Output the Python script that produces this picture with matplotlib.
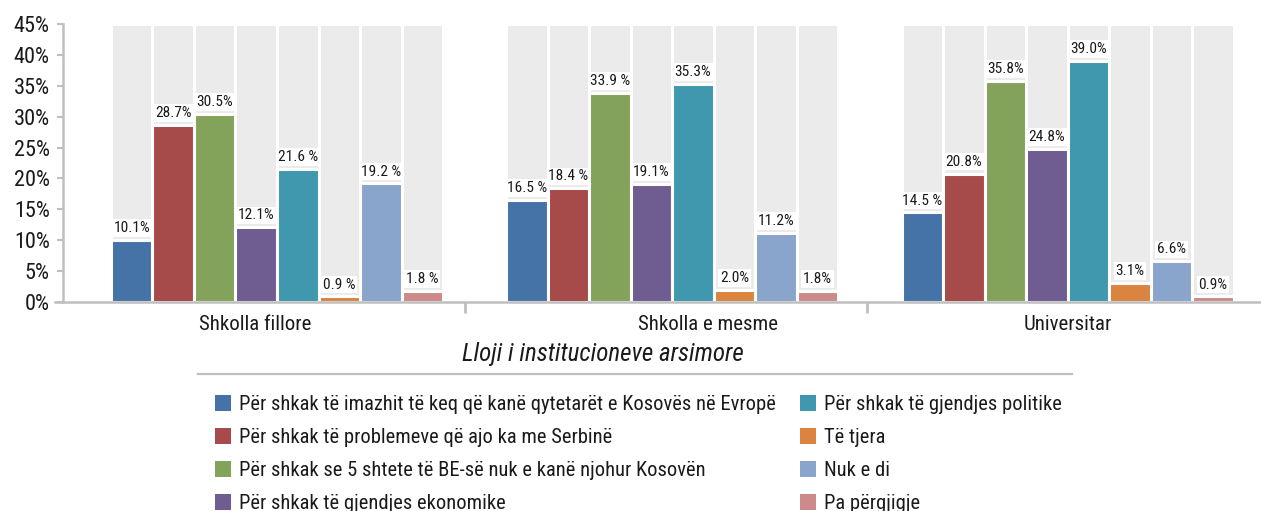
import matplotlib
matplotlib.use("Agg")
import matplotlib.pyplot as plt
from matplotlib import font_manager as fm
from matplotlib.font_manager import FontProperties
from matplotlib.patches import Patch
from matplotlib.lines import Line2D
import numpy as np

# ---- data -------------------------------------------------------------
categories = ["Shkolla fillore", "Shkolla e mesme", "Universitar"]

series_names = [
    "Për shkak të imazhit të keq që kanë qytetarët e Kosovës në Evropë",
    "Për shkak të problemeve që ajo ka me Serbinë",
    "Për shkak se 5 shtete të BE-së nuk e kanë njohur Kosovën",
    "Për shkak të gjendjes ekonomike",
    "Për shkak të gjendjes politike",
    "Të tjera",
    "Nuk e di",
    "Pa përgjigje",
]

imazhi = [10.1, 16.5, 14.5]
serbia = [28.7, 18.4, 20.8]
njohja = [30.5, 33.9, 35.8]
ekonomia = [12.1, 19.1, 24.8]
politika = [21.6, 35.3, 39.0]
te_tjera = [0.9, 2.0, 3.1]
nuk_e_di = [19.2, 11.2, 6.6]
pa_pergjigje = [1.8, 1.8, 0.9]

series_values = [imazhi, serbia, njohja, ekonomia, politika,
                 te_tjera, nuk_e_di, pa_pergjigje]

# separator between number and percent sign, as typeset in the labels
label_gaps = [
    ["", " ", " "],
    ["", " ", ""],
    ["", " ", ""],
    ["", "", ""],
    [" ", "", ""],
    [" ", "", ""],
    [" ", "", ""],
    [" ", "", ""],
]

y_ticks = [0, 5, 10, 15, 20, 25, 30, 35, 40, 45]
y_tick_labels = [f"{t}%" for t in y_ticks]

colors = ["#4673A7", "#A64B4A", "#84A35A", "#6F5C91",
          "#3F98AE", "#DB843F", "#8AA5CB", "#CC8B8A"]
bg_color = "#EBEBEB"
axis_color = "#BFBFBF"
text_color = "#1A1A1A"


# ---- fonts: prefer a narrow sans face -----------------------------------
CONDENSED = {"ultra-condensed", "extra-condensed", "condensed",
             "semi-condensed"}
PREFERRED = ["Liberation Sans Narrow", "Roboto Condensed",
             "Open Sans Condensed", "Noto Sans", "DejaVu Sans",
             "Noto Sans Display", "Lato", "Open Sans", "Roboto"]


def _weight(e):
    w = e.weight
    if isinstance(w, str):
        w = fm.weight_dict.get(w, 400)
    return w


def _narrow(e):
    tag = (e.name + " " + e.fname).lower()
    return str(e.stretch) in CONDENSED or "narrow" in tag or "condensed" in tag


def pick_font(italic=False):
    wanted = "italic" if italic else "normal"
    cands = [e for e in fm.fontManager.ttflist
             if _narrow(e) and (e.style == wanted or
                                (italic and e.style == "oblique"))
             and abs(_weight(e) - 400) <= 100]
    if not cands:
        return None

    def rank(e):
        fam = PREFERRED.index(e.name) if e.name in PREFERRED else 99
        ext = "extra" in str(e.stretch) or "ultra" in str(e.stretch)
        return (fam, ext, abs(_weight(e) - 400))
    cands.sort(key=rank)
    return cands[0].fname


regular_file = pick_font(False)
italic_file = pick_font(True) or regular_file


def fp(size, italic=False):
    f = italic_file if italic else regular_file
    if f:
        return FontProperties(fname=f, size=size)
    return FontProperties(family="DejaVu Sans", size=size,
                          style="italic" if italic else "normal")


# ---- figure -----------------------------------------------------------
W, H = 1261, 511
fig = plt.figure(figsize=(W / 100, H / 100), dpi=100)
renderer = fig.canvas.get_renderer()


def fit_size(text, target_px, italic=False, base=10.0):
    t = fig.text(0, 0, text, fontproperties=fp(base, italic))
    w = t.get_window_extent(renderer).width
    t.remove()
    return base * target_px / w


s_tick = min(fit_size("45%", 40), 16)
s_bar = min(fit_size("10.1%", 36), 11.5)
s_cat = min(fit_size("Shkolla fillore", 121), 15)
s_title = min(fit_size("Lloji i institucioneve arsimore", 284, True), 18)
s_leg = min(fit_size(series_names[0], 532), 15)

ax = fig.add_axes([63 / W, (H - 302) / H, (W - 63) / W, (302 - 24) / H])

pitch = 0.105
group_x = np.arange(len(categories))
n = len(series_names)

for j, (vals, col) in enumerate(zip(series_values, colors)):
    xs = group_x + (j - (n - 1) / 2) * pitch
    ax.bar(xs, [45] * len(xs), width=pitch, color=bg_color,
           edgecolor="white", linewidth=2.2, zorder=1)
    ax.bar(xs, vals, width=pitch, color=col, edgecolor="white",
           linewidth=2.2, zorder=2, label=series_names[j])
    for k, (x, v) in enumerate(zip(xs, vals)):
        ax.annotate(f"{v:.1f}{label_gaps[j][k]}%", (x, v),
                    xytext=(0, 3.5), textcoords="offset points",
                    ha="center", va="bottom", fontproperties=fp(s_bar),
                    color=text_color, zorder=4,
                    bbox=dict(boxstyle="square,pad=0.12", fc="white",
                              ec="none"))

x_lo, x_hi = (63 - 277) / 395.3, (W - 277) / 395.3
ax.set_xlim(x_lo, x_hi)
ax.set_ylim(0, 45)

ax.set_yticks(y_ticks)
ax.set_yticklabels(y_tick_labels, color=text_color)
for lab in ax.get_yticklabels():
    lab.set_fontproperties(fp(s_tick))
ax.tick_params(axis="y", direction="out", length=4.5, width=1.5,
               color=axis_color, pad=5)

# group separators as major ticks, category names as minor tick labels
ax.set_xticks([0.476, 1.493])
ax.set_xticklabels(["", ""])
ax.tick_params(axis="x", which="major", direction="out", length=8,
               width=2, color=axis_color)
ax.set_xticks([-0.056, 1.09, 2.0], minor=True)
ax.set_xticklabels(categories, minor=True, color=text_color)
for lab in ax.get_xticklabels(minor=True):
    lab.set_fontproperties(fp(s_cat))
ax.tick_params(axis="x", which="minor", length=0, pad=9)

for side in ("top", "right"):
    ax.spines[side].set_visible(False)
for side in ("left", "bottom"):
    ax.spines[side].set_color(axis_color)
    ax.spines[side].set_linewidth(1.8)
# the baseline reaches a little past the value axis on the left
ax.spines["bottom"].set_bounds((55 - 277) / 395.3, x_hi)

fig.text(603 / W, 1 - 354 / H, "Lloji i institucioneve arsimore",
         ha="center", va="center", fontproperties=fp(s_title, True),
         color=text_color)

fig.add_artist(Line2D([198 / W, 1072 / W], [1 - 374 / H, 1 - 374 / H],
                      color=axis_color, linewidth=1.6,
                      transform=fig.transFigure))

leg_px = s_leg * 100 / 72
handles = [Patch(facecolor=c, edgecolor="none") for c in colors]
fig.legend(handles, series_names, ncol=2, loc="upper left",
           bbox_to_anchor=(215 / W, 1 - 395 / H), frameon=False,
           prop=fp(s_leg), borderpad=0, borderaxespad=0,
           handlelength=16 / leg_px, handleheight=16 / leg_px,
           handletextpad=8 / leg_px, labelspacing=0.68,
           columnspacing=24 / leg_px, labelcolor=text_color)

fig.savefig("out.png", dpi=100)
